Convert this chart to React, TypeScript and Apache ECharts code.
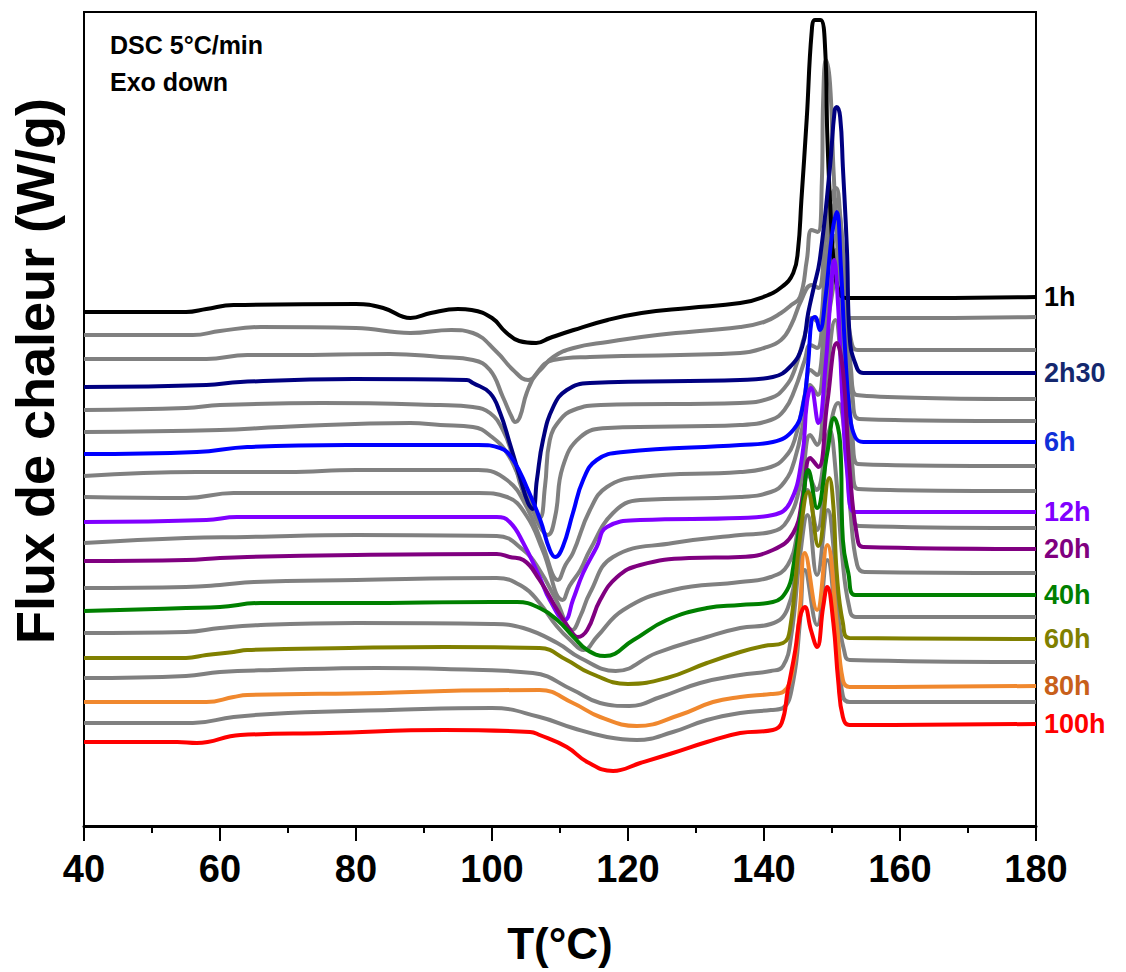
import React, { useEffect, useRef } from "react";
import * as echarts from "echarts";

// Temperature (°C) vs heat flow (W/g, curves offset vertically), exo down
const curve1h = [[40,5.14],[55,5.14],[58,5.17],[62,5.21],[80,5.22],[84,5.18],[88,5.08],[91,5.13],[95,5.17],[97,5.16],[100,5.08],[102,4.94],[104,4.85],[106.5,4.83],[108.5,4.88],[112,4.96],[117,5.06],[122,5.13],[129,5.18],[136.5,5.23],[139.9,5.29],[142.6,5.39],[144.3,5.53],[145,5.76],[145.5,6.26],[146.3,7.09],[147,7.93],[147.5,8.06],[148.3,8.06],[149,7.76],[149.3,6.93],[149.7,6.26],[150.3,5.6],[151,5.35],[152,5.28],[165,5.28],[180,5.29]];
const grayA = [[40,4.91],[56,4.91],[60,4.95],[66,4.99],[80,4.98],[88,4.93],[94,4.96],[97.2,4.93],[100.7,4.74],[103.1,4.56],[105.3,4.46],[107.1,4.56],[109,4.69],[112,4.78],[117,4.84],[124.3,4.91],[136.5,4.99],[140,5.04],[142.5,5.13],[144,5.21],[145.3,5.29],[146.3,5.66],[147,5.96],[147.9,5.94],[148.5,6.43],[148.7,7.26],[149.1,7.66],[149.7,7.43],[150.2,6.59],[150.7,5.93],[151.2,5.33],[152.2,5.08],[165,5.08],[180,5.09]];
const grayB = [[40,4.67],[58,4.67],[64,4.71],[70,4.71],[85,4.72],[92.4,4.69],[97.2,4.66],[99.7,4.56],[101.6,4.29],[102.9,4.09],[103.4,4.04],[104.1,4.09],[105.1,4.33],[106.6,4.53],[109,4.66],[114.4,4.69],[136.5,4.73],[140,4.78],[142.5,4.86],[144,5.01],[145.5,5.26],[147,5.41],[148,5.38],[149,5.86],[150,6.31],[150.6,6.38],[151.2,6.11],[152,5.36],[152.8,4.86],[153.8,4.76],[180,4.76]];
const curve2h30 = [[40,4.39],[58,4.41],[63,4.44],[79.6,4.47],[96.3,4.46],[97.2,4.43],[99.7,4.33],[101.2,4.13],[102.6,3.83],[104.1,3.49],[105.3,3.23],[106,3.17],[106.6,3.46],[107.5,3.86],[109,4.19],[111,4.36],[114.4,4.43],[136.5,4.46],[141.3,4.49],[143.8,4.59],[145.6,4.79],[146.5,5.13],[147.3,5.38],[148.2,5.66],[149.7,6.59],[150.4,7.16],[150.7,7.19],[151.2,7.09],[151.6,6.59],[152.2,5.76],[152.6,4.89],[153.4,4.63],[154.6,4.53],[180,4.53]];
const grayC = [[40,4.16],[55,4.18],[60,4.21],[75,4.23],[92.4,4.21],[97.2,4.19],[99.7,4.13],[101.6,3.96],[102.9,3.73],[104.5,3.35],[106,3.15],[107,3.08],[107.8,3.4],[108.5,3.86],[110,4.06],[112,4.16],[116,4.21],[136.5,4.23],[141,4.28],[143,4.38],[144.5,4.56],[146,4.91],[147,5.08],[148,5.04],[149,5.56],[150,6.11],[150.6,6.26],[151.3,6.01],[152,5.26],[152.8,4.56],[153.6,4.31],[180,4.27]];
const grayD = [[40,3.94],[60,3.96],[69,3.99],[88,4.03],[92.4,4.01],[97.2,3.99],[100,3.89],[102.2,3.73],[103.7,3.53],[105.5,3.25],[107,3.0],[108.2,2.91],[109.3,3.1],[110.4,3.59],[113,3.89],[117,3.98],[136.5,4.01],[141,4.06],[143,4.16],[144.5,4.36],[146,4.66],[146.8,4.81],[147.8,4.78],[149,5.4],[150,5.8],[150.6,5.91],[151.3,5.66],[152,5.0],[153,4.3],[154,4.07],[180,4.05]];
const curve6h = [[40,3.72],[56.6,3.74],[64,3.79],[78.7,3.81],[98,3.81],[101.2,3.78],[103.1,3.66],[105.1,3.39],[107.1,3.06],[108.5,2.76],[109.3,2.69],[110.4,2.79],[111.9,3.13],[113.4,3.46],[115.4,3.66],[119.3,3.74],[136.5,3.81],[141.3,3.84],[144.3,3.96],[145.7,4.19],[146.5,4.63],[147,5.06],[147.5,5.09],[148.2,4.96],[149,5.26],[150,5.91],[150.7,6.14],[151.3,5.6],[151.9,4.79],[152.6,4.13],[153.4,3.89],[154.6,3.84],[180,3.84]];
const grayE = [[40,3.5],[56.6,3.54],[70,3.54],[80,3.56],[98,3.56],[102.2,3.46],[105.1,3.19],[107.5,2.8],[109.7,2.46],[110.8,2.61],[111.9,2.73],[114.4,3.16],[116.9,3.39],[121.8,3.49],[136.5,3.54],[141,3.59],[143,3.68],[144.5,3.86],[146,4.31],[146.8,4.56],[147.8,4.51],[149,5.1],[150,5.56],[150.6,5.76],[151.3,5.4],[152,4.7],[153,3.9],[153.8,3.62],[180,3.6]];
const grayF = [[40,3.29],[55,3.28],[62,3.33],[80,3.33],[98,3.33],[102.2,3.29],[105.1,3.1],[107.5,2.75],[110.4,2.26],[111.4,2.4],[113,2.56],[114.4,2.76],[117.8,3.13],[121.8,3.26],[136.5,3.29],[141,3.34],[143,3.44],[144.5,3.66],[146,4.11],[146.8,4.41],[147.9,4.31],[149,4.86],[150,5.31],[150.5,5.46],[151.2,5.1],[152,4.4],[153,3.6],[153.8,3.37],[180,3.35]];
const curve12h = [[40,3.04],[58,3.06],[62.5,3.09],[80,3.09],[100.7,3.09],[102.6,3.04],[104.6,2.83],[107,2.49],[108.5,2.26],[110.7,2.06],[111.9,2.26],[113.4,2.53],[115.4,2.79],[116.9,2.99],[121.8,3.06],[136.5,3.08],[141.3,3.11],[143.8,3.23],[145.6,3.69],[146.3,4.23],[146.9,4.38],[148,4.03],[149,4.56],[149.8,5.3],[150.3,5.66],[150.9,5.2],[151.5,4.3],[152.2,3.56],[153.3,3.14],[155,3.14],[180,3.14]];
const grayG = [[40,2.83],[55,2.88],[64,2.89],[80,2.91],[100.7,2.9],[104.6,2.76],[107,2.56],[109.5,2.25],[111.8,1.96],[113,2.1],[114.4,2.33],[117.8,2.69],[126.6,2.83],[136.5,2.91],[141,2.94],[143.5,3.06],[145.5,3.46],[146.8,3.91],[147.8,3.81],[149,4.36],[150.5,5.06],[151.3,4.66],[152,3.86],[153,3.16],[154,3.0],[180,2.98]];
const curve20h = [[40,2.65],[55,2.66],[60,2.68],[64,2.69],[80,2.71],[100.7,2.72],[102.6,2.69],[104.6,2.66],[107,2.46],[109.6,2.16],[111.5,1.96],[112.6,1.89],[114,1.96],[115.9,2.26],[118.4,2.49],[121.8,2.61],[129,2.68],[136.5,2.69],[141.3,2.76],[144.3,2.93],[145.7,3.29],[146.8,3.68],[148,3.59],[149.3,4.23],[150.7,4.83],[151.6,4.56],[152.6,3.56],[153.7,2.89],[154.6,2.79],[180,2.77]];
const grayH = [[40,2.38],[55,2.39],[60,2.41],[65,2.44],[80,2.46],[100.7,2.48],[104.6,2.39],[107,2.23],[109.5,2.0],[111.5,1.86],[113.5,1.76],[115.4,1.89],[119.3,2.16],[126.6,2.36],[136.5,2.44],[141,2.49],[143.5,2.61],[145,2.96],[146.5,3.51],[147.7,3.36],[149.3,3.86],[150.9,4.23],[151.8,3.96],[152.7,3.16],[153.7,2.61],[154.8,2.54],[180,2.53]];
const curve40h = [[40,2.15],[55,2.18],[60,2.19],[66,2.23],[80,2.23],[100,2.24],[103.7,2.24],[107,2.18],[109.6,2.06],[112,1.89],[114,1.76],[116.6,1.7],[120.8,1.86],[125.7,2.06],[131.6,2.18],[136.5,2.21],[141.3,2.24],[143.4,2.36],[144.3,2.59],[145.7,3.23],[146.5,3.56],[147.8,3.18],[149.3,3.73],[150.3,4.08],[151.2,3.83],[151.6,2.86],[152.4,2.53],[153.4,2.31],[180,2.31]];
const grayI = [[40,1.93],[55,1.94],[60,1.98],[66,2.01],[80,2.03],[100,2.02],[104.6,1.98],[109.6,1.83],[113,1.68],[118.2,1.55],[124.2,1.73],[131.6,1.89],[136.5,1.98],[141,2.02],[143.5,2.18],[145,2.76],[146.4,3.36],[147.8,2.96],[149.7,3.96],[150.6,3.5],[151.5,2.7],[152.5,2.2],[153.5,2.09],[180,2.09]];
const curve60h = [[40,1.68],[55,1.68],[58,1.71],[62,1.74],[64,1.76],[79,1.78],[93,1.79],[107,1.78],[111,1.66],[114.4,1.53],[120,1.42],[125.7,1.48],[131.6,1.63],[136.5,1.74],[140,1.8],[142.8,1.83],[143.8,1.96],[145.3,2.89],[146.5,3.34],[148,2.8],[149.6,3.48],[150.2,3.2],[150.7,2.53],[151.6,2.03],[152.6,1.88],[180,1.87]];
const grayJ = [[40,1.48],[55,1.5],[60,1.54],[68,1.56],[83,1.58],[93,1.57],[106,1.53],[111.9,1.36],[115.9,1.23],[120.2,1.2],[124.8,1.29],[130.6,1.43],[136.5,1.51],[141,1.55],[142.8,1.6],[144,1.9],[145.3,2.7],[146.4,3.11],[147.8,2.51],[149.4,3.16],[150.2,2.8],[150.9,2.1],[151.8,1.75],[152.6,1.66],[180,1.64]];
const curve80h = [[40,1.24],[58,1.24],[62,1.29],[64,1.31],[83.5,1.33],[93,1.35],[107,1.36],[111.9,1.23],[115.9,1.09],[121.3,1.0],[127.6,1.11],[132.5,1.24],[136.5,1.29],[141,1.32],[142.8,1.34],[144.3,1.59],[145.3,2.19],[146,2.73],[147.8,2.16],[149.3,2.81],[150.7,2.03],[151.6,1.46],[152.6,1.39],[180,1.4]];
const grayK = [[40,1.03],[56,1.03],[62,1.09],[70,1.13],[85,1.16],[100,1.18],[107,1.09],[111.9,0.98],[116.9,0.89],[121.3,0.86],[126.6,0.94],[131.6,1.06],[136.5,1.13],[141,1.16],[142.8,1.18],[144.3,1.45],[145.3,2.05],[146,2.56],[147.8,2.01],[149.3,2.66],[150.7,1.9],[151.6,1.3],[152.6,1.24],[180,1.24]];
const curve100h = [[40,0.84],[53.7,0.84],[56.6,0.83],[63,0.91],[76,0.93],[93,0.96],[105.6,0.94],[107,0.91],[111,0.79],[114,0.64],[117.8,0.55],[121.8,0.63],[126.6,0.73],[131.6,0.84],[136.5,0.93],[141.3,0.96],[142.6,1.03],[143.5,1.36],[144.6,1.76],[145.3,2.09],[146,2.19],[146.9,1.96],[147.8,1.79],[148.7,2.19],[149.3,2.39],[150.2,2.03],[150.9,1.46],[151.6,1.09],[152.6,1.01],[180,1.02]];

const xTicks = { min: 40, max: 180, interval: 20 };
const GRAY = "#808080";

const curves = [
  { name: "1h", data: curve1h, color: "#000000", label: "#000000" },
  { name: "a", data: grayA, color: GRAY, label: null },
  { name: "b", data: grayB, color: GRAY, label: null },
  { name: "2h30", data: curve2h30, color: "#000080", label: "#14286E" },
  { name: "c", data: grayC, color: GRAY, label: null },
  { name: "d", data: grayD, color: GRAY, label: null },
  { name: "6h", data: curve6h, color: "#0000FF", label: "#1030D8" },
  { name: "e", data: grayE, color: GRAY, label: null },
  { name: "f", data: grayF, color: GRAY, label: null },
  { name: "12h", data: curve12h, color: "#8000FF", label: "#8000FF" },
  { name: "g", data: grayG, color: GRAY, label: null },
  { name: "20h", data: curve20h, color: "#800080", label: "#800080" },
  { name: "h", data: grayH, color: GRAY, label: null },
  { name: "40h", data: curve40h, color: "#008000", label: "#008000" },
  { name: "i", data: grayI, color: GRAY, label: null },
  { name: "60h", data: curve60h, color: "#808000", label: "#808000" },
  { name: "j", data: grayJ, color: GRAY, label: null },
  { name: "80h", data: curve80h, color: "#F0882E", label: "#C8601A" },
  { name: "k", data: grayK, color: GRAY, label: null },
  { name: "100h", data: curve100h, color: "#FF0000", label: "#FF0000" },
];

const FONT = "'Liberation Sans', Arial, Helvetica, sans-serif";

export default function App() {
  const ref = useRef<HTMLDivElement>(null);
  useEffect(() => {
    document.body.style.margin = "0";
    const chart = echarts.init(ref.current!, null, { renderer: "svg" });
    const series: any[] = curves.map((c) => ({
      type: "line",
      name: c.name,
      data: c.data,
      symbol: "none",
      showSymbol: false,
      smooth: 0.45,
      silent: true,
      z: c.label ? 3 : 2,
      lineStyle: { color: c.color, width: 4 },
      endLabel: c.label
        ? {
            show: true,
            formatter: c.name,
            color: c.label,
            fontSize: 27,
            fontWeight: "bold",
            fontFamily: FONT,
            distance: 8,
          }
        : { show: false },
    }));
    chart.setOption({
      animation: false,
      backgroundColor: "#ffffff",
      grid: {
        left: 84,
        right: 90,
        top: 12,
        bottom: 146,
        show: true,
        borderColor: "#000",
        borderWidth: 2,
        containLabel: false,
      },
      xAxis: {
        type: "value",
        min: xTicks.min,
        max: xTicks.max,
        interval: xTicks.interval,
        name: "T(°C)",
        nameLocation: "middle",
        nameGap: 95,
        nameTextStyle: { fontSize: 44, fontWeight: "bold", color: "#000", fontFamily: FONT },
        axisLine: { show: true, lineStyle: { color: "#000", width: 3 } },
        axisTick: { show: true, inside: false, length: 15, lineStyle: { color: "#000", width: 2 } },
        minorTick: { show: true, splitNumber: 2, length: 7, lineStyle: { color: "#000", width: 2 } },
        splitLine: { show: false },
        axisLabel: { fontSize: 38, fontWeight: "bold", color: "#000", fontFamily: FONT, margin: 24 },
      },
      yAxis: {
        type: "value",
        min: 0,
        max: 8.14,
        axisLine: { show: true, lineStyle: { color: "#000", width: 2 } },
        axisTick: { show: false },
        axisLabel: { show: false },
        splitLine: { show: false },
      },
      graphic: [
        {
          type: "text",
          left: 110,
          top: 32,
          style: { text: "DSC 5°C/min", font: `bold 25px ${FONT}`, fill: "#000" },
        },
        {
          type: "text",
          left: 110,
          top: 69,
          style: { text: "Exo down", font: `bold 25px ${FONT}`, fill: "#000" },
        },
        {
          type: "text",
          x: 35,
          y: 371,
          rotation: Math.PI / 2,
          style: {
            text: "Flux de chaleur (W/g)",
            font: `bold 54px ${FONT}`,
            fill: "#000",
            align: "center",
            verticalAlign: "middle",
          },
        },
      ],
      series,
    });
    return () => chart.dispose();
  }, []);
  return <div ref={ref} style={{ width: 1126, height: 972 }} />;
}
